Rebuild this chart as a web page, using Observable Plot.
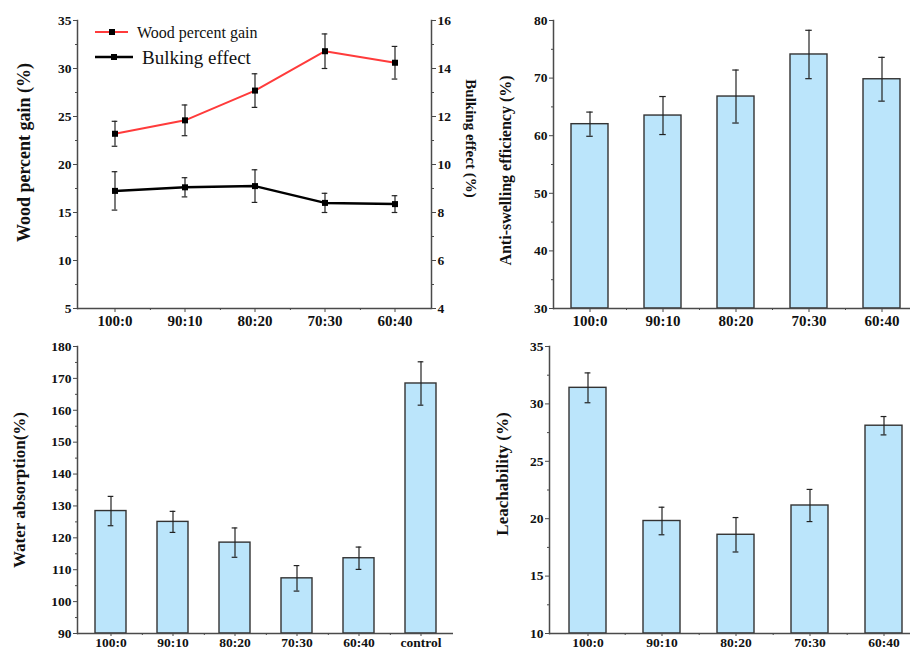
<!DOCTYPE html>
<html><head><meta charset="utf-8">
<script src="https://cdn.jsdelivr.net/npm/d3@7"></script>
<script src="https://cdn.jsdelivr.net/npm/@observablehq/plot@0.6"></script>
<style>
body{margin:0;background:#fff;width:910px;height:650px;overflow:hidden;position:relative;}
svg{overflow:visible}
</style></head><body>
<script>
// ---------- data ----------
const ratios = ["100:0", "90:10", "80:20", "70:30", "60:40"];
const wpgValues = [23.2, 24.6, 27.7, 31.8, 30.6];
const wpgErrors = [1.3, 1.6, 1.75, 1.8, 1.7];
const bulkValues = [8.9, 9.05, 9.1, 8.4, 8.35];
const bulkErrors = [0.8, 0.4, 0.68, 0.4, 0.35];
const aseValues = [62.0, 63.5, 66.8, 74.1, 69.8];
const aseErrors = [2.1, 3.3, 4.6, 4.2, 3.8];
const waCategories = ["100:0", "90:10", "80:20", "70:30", "60:40", "control"];
const waValues = [128.4, 125.0, 118.5, 107.3, 113.6, 168.4];
const waErrors = [4.6, 3.3, 4.6, 4.0, 3.5, 6.8];
const leachValues = [31.4, 19.8, 18.6, 21.15, 28.1];
const leachErrors = [1.3, 1.2, 1.5, 1.4, 0.8];

const wpgTicks = [5, 10, 15, 20, 25, 30, 35];
const bulkTicks = [4, 6, 8, 10, 12, 14, 16];
const aseTicks = [30, 40, 50, 60, 70, 80];
const waTicks = [90, 100, 110, 120, 130, 140, 150, 160, 170, 180];
const leachTicks = [10, 15, 20, 25, 30, 35];

const legendItems = [
  {label: "Wood percent gain", color: "#ff3b3b", size: 16},
  {label: "Bulking effect", color: "#000000", size: 19}
];

// ---------- styles ----------
const serif = "'Liberation Serif','Times New Roman',serif";
const axisColor = "#4a4a4a";
const barFill = "#bbe5fb";
const barStroke = "#333";
const errColor = "#222";
const redLine = "#ff3b3b";

function rows(cats, vals, errs) {
  return cats.map((c, i) => ({cat: c, v: vals[i], lo: vals[i] - errs[i], hi: vals[i] + errs[i]}));
}
function minorOf(ticks) {
  return ticks.slice(1).map((t, i) => (t + ticks[i]) / 2);
}
function place(svg, left, top) {
  svg.style.position = "absolute";
  svg.style.left = left + "px";
  svg.style.top = top + "px";
  document.body.appendChild(svg);
  return svg;
}
function errorMarks(data, bw) {
  const inset = (bw - 6) / 2;
  return [
    Plot.ruleX(data, {x: "cat", y1: "lo", y2: "hi", stroke: errColor, strokeWidth: 1.2}),
    Plot.tickY(data, {x: "cat", y: "lo", insetLeft: inset, insetRight: inset, stroke: errColor, strokeWidth: 1.2}),
    Plot.tickY(data, {x: "cat", y: "hi", insetLeft: inset, insetRight: inset, stroke: errColor, strokeWidth: 1.2})
  ];
}
function commonAxes({ticks, anchor = "left"}) {
  return [
    Plot.axisY({anchor, ticks, tickSize: 4, tickPadding: 2, color: "#111", stroke: axisColor, fontSize: 13.5, fontWeight: "bold", label: null}),
    Plot.axisY({anchor, ticks: minorOf(ticks), tickSize: 2, text: null, stroke: axisColor, label: null}),
    Plot.frame({anchor, stroke: axisColor, strokeWidth: 1.5})
  ];
}
function xAxes(cats, step, yMin, xFont = 15, xPad = 3, xTick = 4) {
  return [
    Plot.axisX({tickSize: xTick, tickPadding: xPad, color: "#111", stroke: axisColor, fontSize: xFont, fontWeight: "bold", label: null}),
    Plot.axisX({ticks: cats.slice(0, -1), dx: step / 2, tickSize: 2, text: null, stroke: axisColor, label: null}),
    Plot.ruleY([yMin], {stroke: axisColor, strokeWidth: 1.5})
  ];
}
function yTitle(title, anchor, dx, dy, size) {
  return Plot.text([title], {frameAnchor: anchor, textAnchor: "middle", lineAnchor: "middle",
    dx, dy, rotate: anchor === "left" ? -90 : 90, fontSize: size, fontWeight: "bold", fill: "#111"});
}

function barPanel({cats, vals, errs, yDomain, ticks, title, left, top, width, height, ml, mr, mt, mb, tdx, tdy, tsize, xFont, xPad, xTick}) {
  const data = rows(cats, vals, errs);
  const step = (width - ml - mr) / cats.length;
  const bw = step * 0.5;
  const svg = Plot.plot({
    width, height, marginLeft: ml, marginRight: mr, marginTop: mt, marginBottom: mb,
    style: {background: "transparent", overflow: "visible", fontFamily: serif},
    x: {domain: cats, paddingInner: 0.5, paddingOuter: 0.25, axis: null},
    y: {domain: yDomain, axis: null},
    marks: [
      Plot.barY(data, {x: "cat", y1: yDomain[0], y2: "v", fill: barFill, stroke: barStroke, strokeWidth: 1.4}),
      ...errorMarks(data, bw),
      ...commonAxes({ticks}),
      ...xAxes(cats, step, yDomain[0], xFont, xPad, xTick),
      yTitle(title, "left", tdx, tdy, tsize)
    ]
  });
  return place(svg, left, top);
}

// ---------- top-left: line chart with two y axes ----------
(function () {
  const width = 460, height = 330, ml = 77, mr = 29, mt = 20, mb = 22;
  const step = (width - ml - mr) / ratios.length;
  const bw = step * 0.5;
  const wpg = rows(ratios, wpgValues, wpgErrors);
  const bulk = rows(ratios, bulkValues, bulkErrors);
  const base = {
    width, height, marginLeft: ml, marginRight: mr, marginTop: mt, marginBottom: mb,
    style: {background: "transparent", overflow: "visible", fontFamily: serif},
    x: {domain: ratios, paddingInner: 0.5, paddingOuter: 0.25, axis: null}
  };
  const p1 = Plot.plot({
    ...base,
    y: {domain: [5, 35], axis: null},
    marks: [
      ...errorMarks(wpg, bw),
      Plot.line(wpg, {x: "cat", y: "v", stroke: redLine, strokeWidth: 2}),
      Plot.dot(wpg, {x: "cat", y: "v", symbol: "square", r: 3.4, fill: "#000"}),
      ...commonAxes({ticks: wpgTicks}),
      ...xAxes(ratios, step, 5),
      yTitle("Wood percent gain (%)", "left", -53, -12, 18)
    ]
  });
  place(p1, 0, 0);
  const p2 = Plot.plot({
    ...base,
    y: {domain: [4, 16], axis: null},
    marks: [
      ...errorMarks(bulk, bw),
      Plot.line(bulk, {x: "cat", y: "v", stroke: "#000", strokeWidth: 2.5}),
      Plot.dot(bulk, {x: "cat", y: "v", symbol: "square", r: 3.4, fill: "#000"}),
      ...commonAxes({ticks: bulkTicks, anchor: "right"}),
      yTitle("Bulking effect (%)", "right", 39, -26, 15)
    ]
  });
  place(p2, 0, 0);
  // legend
  const g = d3.select(p1).append("g").attr("font-family", serif).attr("text-anchor", "start");
  legendItems.forEach((d, i) => {
    const y = 32 + i * 25;
    g.append("line").attr("x1", 95).attr("x2", i ? 133 : 128).attr("y1", y).attr("y2", y)
      .attr("stroke", d.color).attr("stroke-width", i ? 2.5 : 2);
    g.append("rect").attr("x", i ? 111 : 109).attr("y", y - 3).attr("width", 6).attr("height", 6).attr("fill", "#000");
    g.append("text").attr("x", i ? 142 : 137).attr("y", y).attr("dy", "0.35em")
      .attr("font-size", d.size).attr("fill", "#111").text(d.label);
  });
})();

// ---------- top-right ----------
barPanel({cats: ratios, vals: aseValues, errs: aseErrors, yDomain: [30, 80], ticks: aseTicks,
  title: "Anti-swelling efficiency (%)", left: 460, top: 0, width: 460, height: 330,
  ml: 93, mr: 2, mt: 20, mb: 22, tdx: -48, tdy: 6, tsize: 16});

// ---------- bottom-left ----------
barPanel({cats: waCategories, vals: waValues, errs: waErrors, yDomain: [90, 180], ticks: waTicks,
  title: "Water absorption(%)", left: 0, top: 325, width: 460, height: 325,
  ml: 77, mr: 7, mt: 21, mb: 17, tdx: -58, tdy: 0, tsize: 17, xFont: 13.5, xPad: 1, xTick: 3});

// ---------- bottom-right ----------
barPanel({cats: ratios, vals: leachValues, errs: leachErrors, yDomain: [10, 35], ticks: leachTicks,
  title: "Leachability (%)", left: 460, top: 325, width: 465, height: 325,
  ml: 89, mr: 4, mt: 21, mb: 17, tdx: -47, tdy: -16, tsize: 17, xFont: 13.5, xPad: 1, xTick: 3});
</script>
</body></html>
